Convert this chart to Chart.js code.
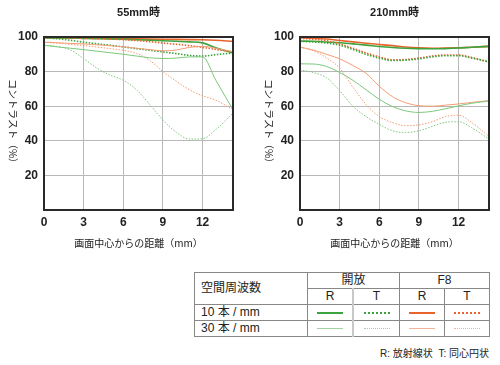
<!DOCTYPE html>
<html>
<head>
<meta charset="utf-8">
<script src="https://cdn.jsdelivr.net/npm/chart.js@4.4.0/dist/chart.umd.min.js"></script>
<style>
  body { margin: 0; width: 500px; height: 365px; overflow: hidden; background: #fff; position: relative;
         font-family: "Liberation Sans", "Noto Sans CJK JP", sans-serif; color: #222; }
  .box { position: absolute; top: 0; width: 250px; height: 260px; }
  #legend { position: absolute; left: 194px; top: 272px; border-collapse: collapse; font-size: 12px; }
  #legend td { border: 1px solid #888; height: 15px; line-height: 15px; padding: 0; text-align: center;
               font-family: "Liberation Sans", "Noto Sans CJK JP", sans-serif; }
  #legend td.lbl { text-align: left; padding-left: 6px; }
  #legend td.mid { border-right: 2px solid #c8c8c8; }
  .smp { display: inline-block; width: 26px; vertical-align: middle; }
  .note { position: absolute; right: 11px; top: 345px; font-size: 10px; font-family: "Liberation Sans", "Noto Sans CJK JP", sans-serif; }
</style>
</head>
<body>
<div class="box" style="left:0"><canvas id="c55"></canvas></div>
<div class="box" style="left:250px"><canvas id="c210"></canvas></div>

<table id="legend">
  <tr>
    <td rowspan="2" class="lbl" style="width:106px">空間周波数</td>
    <td colspan="2">開放</td>
    <td colspan="2">F8</td>
  </tr>
  <tr><td class="mid" style="width:44px">R</td><td style="width:45px">T</td><td style="width:44px">R</td><td style="width:44px">T</td></tr>
  <tr>
    <td class="lbl">10 本 / mm</td>
    <td class="mid"><span class="smp" style="border-top:2px solid #3da33d"></span></td>
    <td><span class="smp" style="border-top:2px dotted #3da33d"></span></td>
    <td><span class="smp" style="border-top:2px solid #e8642c"></span></td>
    <td><span class="smp" style="border-top:2px dotted #e8642c"></span></td>
  </tr>
  <tr>
    <td class="lbl">30 本 / mm</td>
    <td class="mid"><span class="smp" style="border-top:1px solid #9fd49f"></span></td>
    <td><span class="smp" style="border-top:1px dotted #9fd49f"></span></td>
    <td><span class="smp" style="border-top:1px solid #f2b496"></span></td>
    <td><span class="smp" style="border-top:1px dotted #f2b496"></span></td>
  </tr>
</table>
<div class="note">R: 放射線状 &nbsp;T: 同心円状</div>

<script>
// distance from image centre (mm) and axis ticks
const dist = [0, 1, 2, 3, 4, 5, 6, 7, 8, 9, 10, 11, 12, 13, 14.3];
const xTicks = [0, 3, 6, 9, 12];
const yTicks = [0, 20, 40, 60, 80, 100];

// 55mm
const w_openR10 = [99.6, 99.5, 99.4, 99.2, 99.0, 98.9, 98.7, 98.4, 98.1, 97.8, 97.5, 97.2, 96.6, 93.8, 90.8];
const w_openT10 = [99.6, 99.0, 98.1, 97.0, 96.1, 95.2, 94.3, 93.3, 92.3, 91.4, 90.4, 89.4, 89.0, 89.8, 90.8];
const w_f8R10   = [99.6, 99.6, 99.5, 99.4, 99.3, 99.2, 99.0, 98.9, 98.8, 98.7, 98.6, 98.5, 98.4, 98.1, 97.5];
const w_f8T10   = [99.6, 99.5, 99.4, 99.2, 99.0, 98.8, 98.5, 98.0, 97.3, 96.5, 95.8, 95.0, 94.0, 92.8, 91.4];
const w_openR30 = [95.2, 94.3, 93.5, 92.7, 91.8, 90.9, 90.0, 89.0, 88.0, 87.6, 87.8, 88.5, 88.5, 75.0, 58.0];
const w_openT30 = [95.2, 94.5, 92.5, 87.5, 82.0, 78.0, 75.0, 69.5, 61.0, 52.0, 45.0, 41.0, 41.2, 46.5, 56.0];
const w_f8R30   = [97.0, 96.7, 96.3, 96.0, 95.5, 95.0, 94.3, 93.5, 92.7, 92.0, 92.5, 94.0, 94.6, 93.5, 91.4];
const w_f8T30   = [97.0, 96.4, 95.7, 95.0, 94.2, 93.3, 92.3, 90.5, 86.5, 80.0, 74.5, 69.5, 66.0, 63.5, 58.0];

// 210mm
const t_openR10 = [97.7, 97.5, 97.1, 96.7, 96.0, 95.3, 94.5, 93.9, 93.5, 93.3, 93.2, 93.3, 93.6, 94.1, 94.6];
const t_openT10 = [97.5, 97.1, 96.5, 95.3, 92.8, 90.0, 87.8, 86.4, 86.6, 87.4, 88.5, 89.2, 89.2, 87.8, 85.6];
const t_f8R10   = [99.6, 99.3, 98.8, 98.0, 97.2, 96.4, 95.7, 95.0, 94.2, 93.7, 93.5, 93.6, 93.8, 94.1, 94.6];
const t_f8T10   = [99.2, 98.7, 97.8, 96.0, 93.5, 90.8, 88.5, 86.8, 87.0, 87.8, 89.0, 89.6, 89.6, 88.2, 85.5];
const t_openR30 = [84.5, 84.4, 83.0, 79.5, 75.0, 69.5, 64.0, 59.8, 57.3, 56.4, 57.0, 58.5, 60.2, 61.7, 63.0];
const t_openT30 = [81.0, 79.5, 76.5, 69.0, 60.0, 54.0, 49.5, 45.8, 44.8, 45.8, 48.3, 50.7, 51.0, 47.5, 41.0];
const t_f8R30   = [94.2, 92.5, 90.0, 87.4, 83.5, 79.0, 71.5, 65.5, 62.0, 60.3, 60.0, 60.6, 61.3, 62.2, 63.2];
const t_f8T30   = [94.0, 92.0, 88.0, 82.0, 71.0, 61.0, 54.0, 50.5, 48.7, 49.2, 51.0, 54.0, 54.8, 50.5, 42.5];

const GREEN = '#3da33d', GREEN_L = '#7cc87c', ORANGE = '#e8642c', ORANGE_L = '#f39c74';

function line(label, vals, color, width, dotted) {
  return {
    label: label,
    data: dist.map((x, i) => ({ x: x, y: vals[i] })),
    borderColor: color,
    borderWidth: width,
    borderDash: dotted ? [1.5, 1.5] : [],
    pointRadius: 0,
    cubicInterpolationMode: 'monotone',
    fill: false
  };
}

const framePlugin = {
  id: 'frame',
  afterDraw(chart, args, opts) {
    const a = chart.chartArea, ctx = chart.ctx;
    ctx.save();
    ctx.strokeStyle = '#2a2a2a';
    ctx.lineWidth = 2;
    ctx.strokeRect(a.left, a.top, a.right - a.left, a.bottom - a.top);
    ctx.fillStyle = '#222';
    ctx.textAlign = 'center';
    ctx.textBaseline = 'middle';
    ctx.font = 'bold 11px "Liberation Sans", "Noto Sans CJK JP", sans-serif';
    ctx.fillText(opts.title, (a.left + a.right) / 2, 13);
    ctx.translate(a.left - 31, (a.top + a.bottom) / 2);
    ctx.rotate(Math.PI / 2);
    ctx.font = '10px "Noto Sans CJK JP", sans-serif';
    ctx.fillText('コントラスト（%）', 0, 0);
    ctx.restore();
  }
};

function makeChart(id, title, sets, axisWidth, padRight) {
  const tickFont = { family: 'Liberation Sans', size: 12, weight: 'bold' };
  new Chart(document.getElementById(id), {
    type: 'line',
    data: { datasets: sets },
    options: {
      responsive: true,
      maintainAspectRatio: false,
      animation: false,
      layout: { padding: { left: 0, top: 37, right: padRight, bottom: 0 } },
      plugins: { legend: { display: false }, tooltip: { enabled: false }, frame: { title: title } },
      scales: {
        x: {
          type: 'linear', min: 0, max: 14.3,
          afterBuildTicks: s => { s.ticks = xTicks.map(v => ({ value: v })); },
          afterFit: s => { s.height = 50; },
          grid: { color: '#b8b8b8', lineWidth: 1, drawTicks: false },
          border: { display: false },
          ticks: { padding: 5, color: '#222', font: tickFont, maxRotation: 0, autoSkip: false },
          title: { display: true, text: '画面中心からの距離（mm）', color: '#222',
                   font: { family: 'Noto Sans CJK JP', size: 10 }, padding: { top: 0, bottom: 11 } }
        },
        y: {
          min: 0, max: 100,
          afterBuildTicks: s => { s.ticks = yTicks.map(v => ({ value: v })); },
          afterFit: s => { s.width = axisWidth; },
          grid: { color: '#b8b8b8', lineWidth: 1, drawTicks: false },
          border: { display: false },
          ticks: { padding: 6, color: '#222', font: tickFont, callback: v => (v === 0 ? '' : v) }
        }
      }
    },
    plugins: [framePlugin]
  });
}

makeChart('c55', '55mm時', [
  line('開放 R 30本/mm', w_openR30, GREEN_L, 1, false),
  line('開放 T 30本/mm', w_openT30, GREEN_L, 1, true),
  line('F8 R 30本/mm', w_f8R30, ORANGE_L, 1, false),
  line('F8 T 30本/mm', w_f8T30, ORANGE_L, 1, true),
  line('開放 T 10本/mm', w_openT10, GREEN, 1.6, true),
  line('F8 T 10本/mm', w_f8T10, ORANGE, 1.6, true),
  line('開放 R 10本/mm', w_openR10, GREEN, 1.6, false),
  line('F8 R 10本/mm', w_f8R10, ORANGE, 1.6, false)
], 44, 17);

makeChart('c210', '210mm時', [
  line('開放 R 30本/mm', t_openR30, GREEN_L, 1, false),
  line('開放 T 30本/mm', t_openT30, GREEN_L, 1, true),
  line('F8 R 30本/mm', t_f8R30, ORANGE_L, 1, false),
  line('F8 T 30本/mm', t_f8T30, ORANGE_L, 1, true),
  line('開放 T 10本/mm', t_openT10, GREEN, 1.6, true),
  line('F8 T 10本/mm', t_f8T10, ORANGE, 1.6, true),
  line('開放 R 10本/mm', t_openR10, GREEN, 1.6, false),
  line('F8 R 10本/mm', t_f8R10, ORANGE, 1.6, false)
], 50, 11);
</script>
</body>
</html>
